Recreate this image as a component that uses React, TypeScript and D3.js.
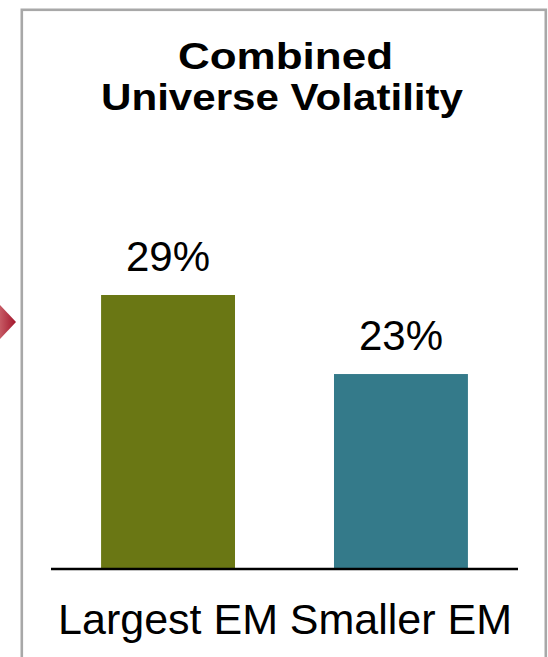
import React from "react";
import * as d3 from "d3";

// Chart data
const categories = ["Largest EM", "Smaller EM"];
const volatility = [29, 23];
const valueLabels = ["29%", "23%"];
const barColors = ["#6a7714", "#347a8a"];
const titleLines = ["Combined", "Universe Volatility"];

const W = 548;
const H = 657;

export default function App() {
  const baseY = 569;
  const x = d3
    .scaleBand<string>()
    .domain(categories)
    .range([51, 518])
    .paddingInner(0.425)
    .paddingOuter(0.215);
  const y = d3.scaleLinear().domain([8.2, 29]).range([baseY, 295]);

  const font = "Arial, 'Liberation Sans', Helvetica, sans-serif";
  const cx = 284;

  return (
    <svg
      width={W}
      height={H}
      style={{ position: "absolute", left: 0, top: 0, display: "block" }}
      fontFamily={font}
    >
      <defs>
        <linearGradient id="arrowGrad" x1="0" x2="1" y1="0" y2="0">
          <stop offset="0" stopColor="#c65a64" />
          <stop offset="1" stopColor="#a3152b" />
        </linearGradient>
      </defs>
      <rect width={W} height={H} fill="#ffffff" />

      {/* pointer arrow on the left */}
      <polygon points="0,305 16,322 0,339" fill="url(#arrowGrad)" />

      {/* panel frame */}
      <rect
        x={21.8}
        y={9.8}
        width={524}
        height={H + 20}
        fill="none"
        stroke="#a8a8a8"
        strokeWidth={2.6}
      />

      {/* title */}
      <text
        x={cx + 1.5}
        y={69}
        textAnchor="middle"
        fontWeight="bold"
        fontSize={36}
        textLength={215}
        lengthAdjust="spacingAndGlyphs"
        fill="#000"
      >
        {titleLines[0]}
      </text>
      <text
        x={cx - 2}
        y={110}
        textAnchor="middle"
        fontWeight="bold"
        fontSize={36}
        textLength={362}
        lengthAdjust="spacingAndGlyphs"
        fill="#000"
      >
        {titleLines[1]}
      </text>

      {/* bars */}
      {categories.map((c, i) => (
        <rect
          key={c}
          x={x(c)}
          y={y(volatility[i])}
          width={x.bandwidth()}
          height={baseY - y(volatility[i])}
          fill={barColors[i]}
        />
      ))}

      {/* value labels */}
      {categories.map((c, i) => (
        <text
          key={c + "-v"}
          x={(x(c) as number) + x.bandwidth() / 2}
          y={y(volatility[i]) - 24}
          textAnchor="middle"
          fontSize={42}
          fill="#000"
        >
          {valueLabels[i]}
        </text>
      ))}

      {/* baseline */}
      <line
        x1={51}
        x2={518}
        y1={baseY}
        y2={baseY}
        stroke="#000"
        strokeWidth={2.4}
      />

      {/* category labels */}
      {categories.map((c) => (
        <text
          key={c + "-c"}
          x={(x(c) as number) + x.bandwidth() / 2}
          y={634}
          textAnchor="middle"
          fontSize={43}
          fill="#000"
        >
          {c}
        </text>
      ))}
    </svg>
  );
}
